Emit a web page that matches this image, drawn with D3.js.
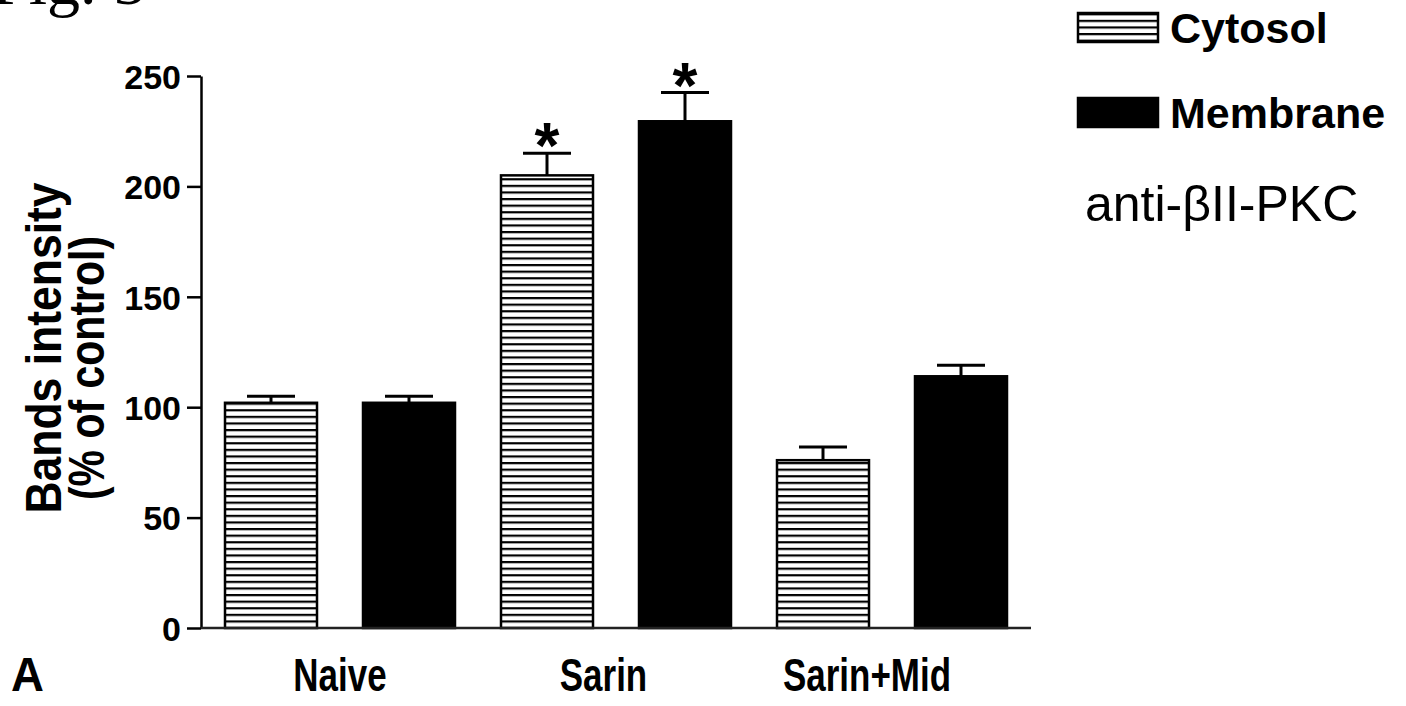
<!DOCTYPE html>
<html>
<head>
<meta charset="utf-8">
<script src="https://cdn.jsdelivr.net/npm/d3@7"></script>
<style>
  html, body { margin: 0; padding: 0; background: #fff; }
  svg { display: block; }
  text { font-family: "Liberation Sans", Arial, sans-serif; fill: #000; }
</style>
</head>
<body>
<svg id="chart" width="1406" height="706"></svg>
<script>
// Groups, series and measured values (% of control, mean and SEM)
const groups = ["Naive", "Sarin", "Sarin+Mid"];
const seriesNames = ["Cytosol", "Membrane"];
const cytosolMean = [102, 205, 76];
const cytosolSem = [3, 10, 6];
const membraneMean = [102, 229.5, 114];
const membraneSem = [3, 13, 5];
const cytosolSig = [false, true, false];
const membraneSig = [false, true, false];
const yTicks = [0, 50, 100, 150, 200, 250];

const rows = [];
groups.forEach((g, i) => {
  rows.push({ group: g, series: "Cytosol", mean: cytosolMean[i], sem: cytosolSem[i], sig: cytosolSig[i] });
  rows.push({ group: g, series: "Membrane", mean: membraneMean[i], sem: membraneSem[i], sig: membraneSig[i] });
});

const svg = d3.select("#chart");

// Horizontal-line hatch used for the cytosol bars
const defs = svg.append("defs");
defs.append("pattern")
  .attr("id", "hatch")
  .attr("patternUnits", "userSpaceOnUse")
  .attr("width", 20).attr("height", 6.6)
  .call(p => {
    p.append("rect").attr("width", 20).attr("height", 6.6).attr("fill", "#fff");
    p.append("rect").attr("y", 0).attr("width", 20).attr("height", 2.2).attr("fill", "#000");
  });

const fillFor = s => s === "Cytosol" ? "url(#hatch)" : "#000";

// Scales
const y = d3.scaleLinear().domain([0, 250]).range([628, 76]);
const x0 = d3.scaleBand().domain(groups).range([202, 1030]).paddingInner(0).paddingOuter(0);
const x1 = d3.scaleBand().domain(seriesNames).range([0, x0.bandwidth()])
  .paddingInner(1 / 3).paddingOuter(1 / 6);
const labelX = d3.scalePoint().domain(groups).range([340, 867]);

// Figure caption, partly above the page edge
svg.append("text")
  .attr("x", -8).attr("y", 4)
  .style("font-family", "'Liberation Serif', 'Times New Roman', serif")
  .style("font-size", "66px")
  .text("Fig. 5");

// Bars
svg.append("g").selectAll("rect.bar")
  .data(rows)
  .join("rect")
  .attr("class", "bar")
  .attr("x", d => x0(d.group) + x1(d.series))
  .attr("y", d => y(d.mean))
  .attr("width", x1.bandwidth())
  .attr("height", d => y(0) - y(d.mean))
  .attr("fill", d => fillFor(d.series))
  .attr("stroke", "#000")
  .attr("stroke-width", 2.5);

// Error bars (upper SEM only)
const errG = svg.append("g").attr("stroke", "#000").attr("stroke-width", 3);
rows.forEach(d => {
  const cx = x0(d.group) + x1(d.series) + x1.bandwidth() / 2;
  errG.append("line")
    .attr("x1", cx).attr("x2", cx)
    .attr("y1", y(d.mean)).attr("y2", y(d.mean + d.sem));
  errG.append("line")
    .attr("x1", cx - 24).attr("x2", cx + 24)
    .attr("y1", y(d.mean + d.sem)).attr("y2", y(d.mean + d.sem));
});

// Significance markers above the error caps
const starSize = 64;
rows.filter(d => d.sig).forEach(d => {
  const cx = x0(d.group) + x1(d.series) + x1.bandwidth() / 2;
  svg.append("text")
    .attr("x", cx)
    .attr("y", y(d.mean + d.sem) - 10 + 0.39 * starSize)
    .attr("text-anchor", "middle")
    .style("font-weight", "bold")
    .style("font-size", starSize + "px")
    .text("*");
});

// Y axis
const yAxis = d3.axisLeft(y).tickValues(yTicks).tickSize(14).tickSizeOuter(0).tickPadding(6);
const yAxisG = svg.append("g").attr("transform", "translate(201,0)").call(yAxis);
yAxisG.select(".domain").attr("stroke", "#000").attr("stroke-width", 2.5);
yAxisG.selectAll(".tick line").attr("stroke", "#000").attr("stroke-width", 2.5);
yAxisG.selectAll(".tick text")
  .style("font-family", "'Liberation Sans', Arial, sans-serif")
  .style("font-weight", "bold")
  .style("font-size", "34px")
  .attr("dy", "0.36em");

// X axis baseline
svg.append("line")
  .attr("x1", 201).attr("x2", 1031)
  .attr("y1", y(0)).attr("y2", y(0))
  .attr("stroke", "#222").attr("stroke-width", 2.5);

// Group labels (tall, narrow lettering)
svg.selectAll("text.grp")
  .data(groups)
  .join("text")
  .attr("class", "grp")
  .attr("transform", d => `translate(${labelX(d)},691) scale(0.76,1)`)
  .attr("text-anchor", "middle")
  .style("font-weight", "bold")
  .style("font-size", "46px")
  .text(d => d);

// Panel letter
svg.append("text")
  .attr("transform", "translate(11,691) scale(0.95,1)")
  .style("font-weight", "bold")
  .style("font-size", "48px")
  .text("A");

// Y axis title (two lines)
const yTitle = svg.append("g").style("font-weight", "bold").style("font-size", "50px");
yTitle.append("text")
  .attr("transform", "translate(61,348) rotate(-90) scale(0.89,1)")
  .attr("text-anchor", "middle")
  .text("Bands intensity");
yTitle.append("text")
  .attr("transform", "translate(104,368) rotate(-90) scale(0.82,1)")
  .attr("text-anchor", "middle")
  .text("(% of control)");

// Legend
const legend = svg.append("g");
seriesNames.forEach((s, i) => {
  const top = [13, 98][i];
  legend.append("rect")
    .attr("x", 1078).attr("y", top)
    .attr("width", 80).attr("height", 29)
    .attr("fill", fillFor(s))
    .attr("stroke", "#000").attr("stroke-width", 2.5);
  legend.append("text")
    .attr("x", 1170).attr("y", top + 30)
    .style("font-weight", "bold")
    .style("font-size", "43px")
    .text(s);
});
legend.append("text")
  .attr("x", 1085).attr("y", 221)
  .style("font-size", "50px")
  .text("anti-βII-PKC");
</script>
</body>
</html>
